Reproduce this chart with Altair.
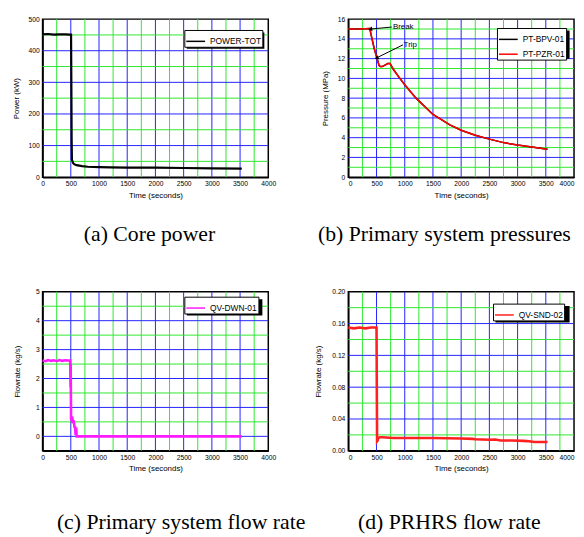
import altair as alt
import pandas as pd

# ---------------- data ----------------
# (a) Core power
a_time = [0, 100, 200, 300, 400, 480, 505, 510, 515, 520, 540, 560, 600, 700, 800, 1000, 1200, 1500, 2000, 2500, 3000, 3530]
a_power = [452, 453, 451, 452, 452, 451, 451, 300, 120, 55, 45, 41, 38, 35, 33, 32, 31, 30, 30, 29, 28, 27]

# (b) Primary system pressures
b_time = [0, 200, 380, 420, 460, 500, 545, 570, 600, 650, 700, 740, 800, 900, 1000, 1200, 1500, 1800, 2000, 2250, 2500, 2750, 3000, 3250, 3530]
b_bpv = [15.0, 15.0, 15.05, 14.0, 13.0, 12.2, 11.3, 11.2, 11.2, 11.35, 11.5, 11.5, 10.9, 10.1, 9.35, 8.0, 6.35, 5.3, 4.75, 4.25, 3.85, 3.5, 3.25, 3.05, 2.82]
b_pzr = [15.0, 15.0, 15.05, 14.0, 13.0, 12.2, 11.3, 11.2, 11.2, 11.35, 11.5, 11.5, 10.9, 10.1, 9.35, 8.0, 6.35, 5.3, 4.75, 4.25, 3.85, 3.5, 3.25, 3.05, 2.82]
b_annot_text = ["Break", "Trip"]
b_annot_tx = [790, 980]
b_annot_ty = [15.25, 13.4]
b_arrow_x1 = [770, 970]
b_arrow_y1 = [15.2, 13.4]
b_arrow_x2 = [400, 510]
b_arrow_y2 = [15.0, 12.1]
b_arrow_angle = [264, 244]

# (c) Primary system flow rate
c_time = [0, 50, 100, 150, 200, 250, 300, 350, 400, 450, 490, 495, 498, 505, 515, 530, 545, 555, 565, 575, 585, 595, 605, 1000, 2000, 3000, 3530]
c_flow = [2.62, 2.60, 2.64, 2.61, 2.63, 2.60, 2.64, 2.61, 2.63, 2.62, 2.62, 1.70, 2.50, 0.60, 0.55, 0.60, 0.45, 0.55, 0.30, 0.35, 0.05, 0.30, 0.0, 0.0, 0.0, 0.0, 0.0]

# (d) PRHRS flow rate
d_time = [0, 100, 200, 300, 400, 500, 505, 510, 520, 530, 560, 600, 800, 1000, 1500, 2000, 2200, 2250, 2500, 2600, 2700, 2900, 3100, 3200, 3300, 3530]
d_flow = [0.155, 0.154, 0.155, 0.154, 0.155, 0.155, 0.08, 0.012, 0.013, 0.016, 0.017, 0.017, 0.016, 0.016, 0.016, 0.0155, 0.015, 0.0145, 0.014, 0.0142, 0.013, 0.013, 0.0125, 0.012, 0.011, 0.011]

# grid positions: major (blue) and minor (green)
x_major = [500, 1000, 1500, 2000, 2500, 3000, 3500]
x_minor = [250, 750, 1250, 1750, 2250, 2750, 3250, 3750]
a_major = [100, 200, 300, 400]
a_minor = [50, 150, 250, 350, 450]
b_major = [2, 4, 6, 8, 10, 12, 14]
b_minor = [1, 3, 5, 7, 9, 11, 13, 15]
c_major = [0, 1, 2, 3, 4]
c_minor = [0.5, 1.5, 2.5, 3.5, 4.5]
d_major = [0.04, 0.08, 0.12, 0.16]
d_minor = [0.02, 0.06, 0.10, 0.14, 0.18]

BLUE = "#2424ff"
GREEN = "#2ee82e"
LFONT = "Liberation Sans"
W = 228.5


def x_enc(flush=False):
    return alt.X("t:Q", scale=alt.Scale(domain=[0, 4000], nice=False),
                 axis=alt.Axis(values=list(range(0, 4001, 500)), format="d", title="Time (seconds)",
                               titlePadding=4, labelFlush=flush, labelOverlap=False))


def y_enc(title, domain, values, fmt, tpad):
    return alt.Y("v:Q", scale=alt.Scale(domain=domain, nice=False),
                 axis=alt.Axis(values=values, format=fmt, title=title, titlePadding=tpad,
                               labelOverlap=False))


def grid_layers(xe, ye, ymaj, ymin):
    out = []
    for vals, col in ((x_minor, GREEN), (x_major, BLUE)):
        out.append(alt.Chart(pd.DataFrame({"t": vals})).mark_rule(strokeWidth=1, color=col).encode(x=xe))
    for vals, col in ((ymin, GREEN), (ymaj, BLUE)):
        out.append(alt.Chart(pd.DataFrame({"v": vals})).mark_rule(strokeWidth=1, color=col).encode(y=ye))
    return out


def legend(lx, ly):
    return alt.Legend(
        orient="none", legendX=lx, legendY=ly, title=None,
        strokeColor="black", fillColor="white", padding=1,
        symbolType="stroke", symbolSize=361, symbolStrokeWidth=1.5,
        labelFont=LFONT, labelFontSize=8.5, labelOffset=4, rowPadding=0,
    )


def shadow(lx, ly, w, h):
    # drop shadow drawn just below/right of the legend box
    return alt.Chart(pd.DataFrame({"s": [0]})).mark_rect(color="black").encode(
        x=alt.value(lx + 2.5), x2=alt.value(lx + w + 2.5), y=alt.value(ly + 2.5), y2=alt.value(ly + h + 2.5)
    )


def caption(text, dx, offset):
    return alt.TitleParams(
        text=text, orient="bottom", anchor="middle", font="Liberation Serif",
        fontSize=22, fontWeight="normal", color="black", dx=dx, offset=offset,
    )


# ---------- panel (a) ----------
xa = x_enc()
ya = y_enc("Power (kW)", [0, 500], list(range(0, 501, 100)), "d", 8)
df_a = pd.DataFrame({"t": a_time, "v": a_power, "s": "POWER-TOT"})
a_line = alt.Chart(df_a).mark_line(strokeWidth=2.2).encode(
    x=xa, y=ya,
    color=alt.Color("s:N", scale=alt.Scale(domain=["POWER-TOT"], range=["black"]), legend=legend(143.5, 11)),
)
panel_a = alt.layer(*grid_layers(xa, ya, a_major, a_minor),
                    shadow(143.5, 11, 78.5, 16.5), a_line).properties(
    width=W, height=160, title=caption("(a)  Core power", -6, 25.5))

# ---------- panel (b) ----------
xb = x_enc(flush=True)
yb = y_enc("Pressure (MPa)", [0, 16], list(range(0, 17, 2)), "d", 8)
df_b = pd.concat([
    pd.DataFrame({"t": b_time, "v": b_bpv, "s": "PT-BPV-01"}),
    pd.DataFrame({"t": b_time, "v": b_pzr, "s": "PT-PZR-01"}),
])
b_color = alt.Color("s:N", scale=alt.Scale(domain=["PT-BPV-01", "PT-PZR-01"], range=["black", "#ff0000"]),
                    legend=legend(150.5, 9))
b_black = alt.Chart(df_b).transform_filter("datum.s === 'PT-BPV-01'").mark_line(strokeWidth=1.5).encode(
    x=xb, y=yb, color=b_color)
b_red = alt.Chart(df_b).transform_filter("datum.s === 'PT-PZR-01'").mark_line(strokeWidth=1.5).encode(
    x=xb, y=yb, color=b_color)
df_arrow = pd.DataFrame({"t": b_arrow_x1, "v": b_arrow_y1, "t2": b_arrow_x2, "v2": b_arrow_y2})
b_arrows = alt.Chart(df_arrow).mark_rule(color="black", strokeWidth=1).encode(
    x=xb, y=yb, x2="t2:Q", y2="v2:Q")
df_head = pd.DataFrame({"t": b_arrow_x2, "v": b_arrow_y2, "ang": b_arrow_angle})
b_heads = alt.Chart(df_head).mark_point(shape="triangle", filled=True, color="black", size=22, opacity=1).encode(
    x=xb, y=yb, angle=alt.Angle("ang:Q", scale=None))
df_txt = pd.DataFrame({"t": b_annot_tx, "v": b_annot_ty, "txt": b_annot_text})
b_text = alt.Chart(df_txt).mark_text(align="left", baseline="middle", font=LFONT, fontSize=8, color="black").encode(
    x=xb, y=yb, text="txt:N")
panel_b = alt.layer(*grid_layers(xb, yb, b_major, b_minor),
                    shadow(150.5, 9, 71, 28.5), b_black, b_red, b_arrows, b_heads, b_text).properties(
    width=W, height=160, title=caption("(b) Primary system pressures", -17, 25.5))

# ---------- panel (c) ----------
xc = x_enc()
yc = y_enc("Flowrate (kg/s)", [-0.5, 5], list(range(0, 6)), "d", 14)
df_c = pd.DataFrame({"t": c_time, "v": c_flow, "s": "QV-DWN-01"})
c_line = alt.Chart(df_c).mark_line(strokeWidth=2.6).encode(
    x=xc, y=yc,
    color=alt.Color("s:N", scale=alt.Scale(domain=["QV-DWN-01"], range=["#ff1aff"]), legend=legend(143.5, 5)),
)
panel_c = alt.layer(*grid_layers(xc, yc, c_major, c_minor),
                    shadow(143.5, 5, 76.5, 16.5), c_line).properties(
    width=W, height=161, title=caption("(c) Primary system flow rate", 26, 39.5))

# ---------- panel (d) ----------
xd = x_enc(flush=True)
yd = y_enc("Flowrate (kg/s)", [0, 0.2], [i / 100 for i in range(0, 21, 4)], ".2f", 9)
df_d = pd.DataFrame({"t": d_time, "v": d_flow, "s": "QV-SND-02"})
d_line = alt.Chart(df_d).mark_line(strokeWidth=2.6).encode(
    x=xd, y=yd,
    color=alt.Color("s:N", scale=alt.Scale(domain=["QV-SND-02"], range=["#ff2020"]), legend=legend(146.5, 12)),
)
panel_d = alt.layer(*grid_layers(xd, yd, d_major, d_minor),
                    shadow(146.5, 12, 75, 16.5), d_line).properties(
    width=W, height=161, title=caption("(d) PRHRS flow rate", -12, 39.5))

# ---------- layout ----------
chart = alt.concat(panel_a, panel_b, panel_c, panel_d, columns=2, align="none", bounds="flush",
                   spacing={"row": 116, "column": 80.5}).properties(
    padding={"left": 3, "top": 4, "right": 0, "bottom": 0}
).resolve_scale(x="independent", y="independent", color="independent").configure_view(
    stroke="black", strokeWidth=1.5
).configure_axis(
    labelFont=LFONT, labelFontSize=6.8, labelColor="black", labelPadding=3.5,
    titleFont=LFONT, titleFontSize=8, titleFontWeight="normal", titleColor="black",
    ticks=False, grid=False, domainColor="black", domainWidth=1.5,
)

chart.save("out.html", embed_options={"renderer": "svg", "actions": False})
